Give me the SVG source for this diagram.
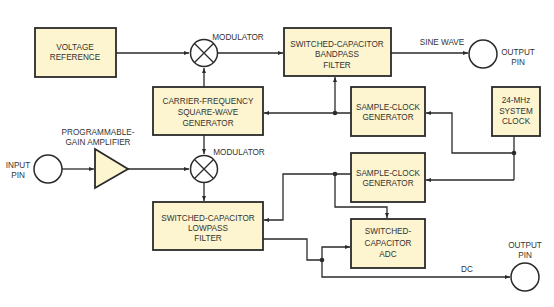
<svg xmlns="http://www.w3.org/2000/svg" width="554" height="307" viewBox="0 0 554 307">
<defs>
<marker id="ah" viewBox="0 0 10 10" refX="10" refY="5" markerWidth="5" markerHeight="5" orient="auto" markerUnits="userSpaceOnUse"><path d="M0,1 L10,5 L0,9 z" fill="#2a2a2a"/></marker>
</defs>
<style>
.box{fill:#fdf5cf;stroke:#2a2a2a;stroke-width:1.8}
.pin{fill:#fff;stroke:#2a2a2a;stroke-width:1.5}
.t{font-family:"Liberation Sans",Arial,sans-serif;font-size:8.2px;fill:#333;text-anchor:middle}
.w{fill:none;stroke:#2a2a2a;stroke-width:1.3}
.a{marker-end:url(#ah)}
.dot{fill:#2a2a2a}
</style>
<rect width="554" height="307" fill="#fff"/>
<g id="connectors">
<path class="w a" d="M116,53 H189"/>
<path class="w a" d="M204,87 V68"/>
<path class="w a" d="M218,53 H283"/>
<path class="w a" d="M391,53 H468"/>
<path class="w a" d="M351,113 H264"/>
<path class="w a" d="M335,113 V77"/>
<path class="w" d="M514,136 V180"/>
<path class="w a" d="M514,153 H452 V113 H426"/>
<path class="w a" d="M514,180 H426"/>
<path class="w a" d="M62,169 H94"/>
<path class="w a" d="M128,169 H189"/>
<path class="w a" d="M204,135 V154"/>
<path class="w a" d="M204,183 V201"/>
<path class="w a" d="M351,174 H283 V220 H264"/>
<path class="w a" d="M335,174 V207 H387 V218"/>
<path class="w" d="M263,239 H307 V260 H322"/>
<path class="w a" d="M322,260 V247 H350"/>
<path class="w a" d="M322,260 V277 H510"/>
<circle class="dot" cx="335" cy="113" r="2.3"/>
<circle class="dot" cx="514" cy="153" r="2.3"/>
<circle class="dot" cx="335" cy="174" r="2.3"/>
<circle class="dot" cx="322" cy="260" r="2.3"/>
<text class="t" x="442" y="45">SINE WAVE</text>
<text class="t" x="467" y="272">DC</text>
</g>
<g id="voltage-reference">
<rect class="box" x="35" y="28" width="81" height="49"/>
<text class="t" x="75" y="50">VOLTAGE</text>
<text class="t" x="75" y="60">REFERENCE</text>
</g>
<g id="modulator1">
<circle class="pin" cx="204" cy="53" r="13.5"/>
<path class="w" d="M194.5,43.5 L213.5,62.5 M213.5,43.5 L194.5,62.5"/>
<text class="t" x="238" y="40">MODULATOR</text>
</g>
<g id="bandpass-filter">
<rect class="box" x="284" y="28" width="107" height="48"/>
<text class="t" x="337" y="47">SWITCHED-CAPACITOR</text>
<text class="t" x="337" y="57">BANDPASS</text>
<text class="t" x="337" y="68">FILTER</text>
</g>
<g id="output-pin1">
<circle class="pin" cx="483" cy="54" r="14"/>
<text class="t" x="518" y="55">OUTPUT</text>
<text class="t" x="518" y="65">PIN</text>
</g>
<g id="carrier-generator">
<rect class="box" x="153" y="87" width="110" height="48"/>
<text class="t" x="208" y="104">CARRIER-FREQUENCY</text>
<text class="t" x="208" y="115">SQUARE-WAVE</text>
<text class="t" x="208" y="126">GENERATOR</text>
</g>
<g id="sample-clock1">
<rect class="box" x="351" y="87" width="74" height="49"/>
<text class="t" x="388" y="110">SAMPLE-CLOCK</text>
<text class="t" x="388" y="120">GENERATOR</text>
</g>
<g id="system-clock">
<rect class="box" x="492" y="87" width="48" height="49"/>
<text class="t" x="516" y="103">24-MHz</text>
<text class="t" x="516" y="114">SYSTEM</text>
<text class="t" x="516" y="124">CLOCK</text>
</g>
<g id="input-pin">
<circle class="pin" cx="48" cy="169" r="14"/>
<text class="t" x="18" y="168">INPUT</text>
<text class="t" x="18" y="178">PIN</text>
</g>
<g id="amplifier">
<path class="box" d="M95,149 L128,169 L95,188 Z"/>
<text class="t" x="98" y="135">PROGRAMMABLE-</text>
<text class="t" x="98" y="145">GAIN AMPLIFIER</text>
</g>
<g id="modulator2">
<circle class="pin" cx="204" cy="169" r="13.5"/>
<path class="w" d="M194.5,159.5 L213.5,178.5 M213.5,159.5 L194.5,178.5"/>
<text class="t" x="239" y="155">MODULATOR</text>
</g>
<g id="sample-clock2">
<rect class="box" x="351" y="153" width="74" height="49"/>
<text class="t" x="388" y="176">SAMPLE-CLOCK</text>
<text class="t" x="388" y="186">GENERATOR</text>
</g>
<g id="lowpass-filter">
<rect class="box" x="153" y="202" width="110" height="48"/>
<text class="t" x="208" y="221">SWITCHED-CAPACITOR</text>
<text class="t" x="208" y="231">LOWPASS</text>
<text class="t" x="208" y="241">FILTER</text>
</g>
<g id="adc">
<rect class="box" x="351" y="219" width="74" height="49"/>
<text class="t" x="388" y="234">SWITCHED-</text>
<text class="t" x="388" y="246">CAPACITOR</text>
<text class="t" x="388" y="257">ADC</text>
</g>
<g id="output-pin2">
<circle class="pin" cx="525" cy="277" r="14"/>
<text class="t" x="525" y="248">OUTPUT</text>
<text class="t" x="525" y="258">PIN</text>
</g>
</svg>
